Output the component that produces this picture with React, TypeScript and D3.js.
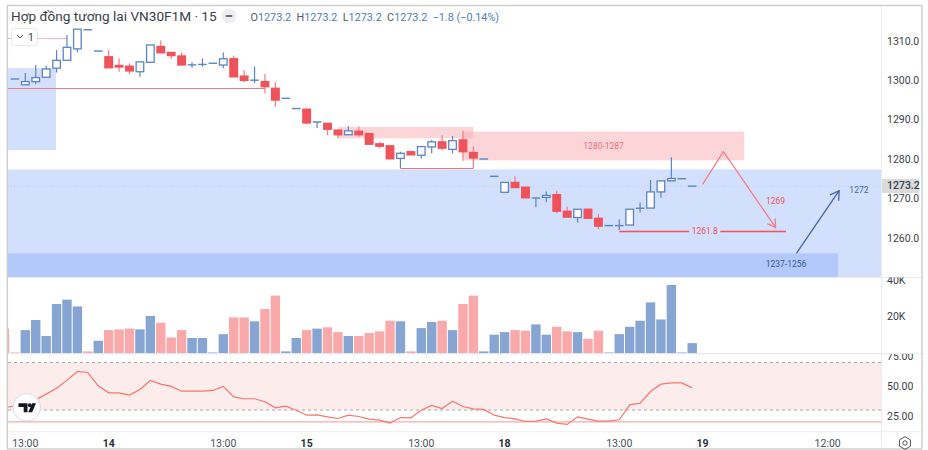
import { useRef, useEffect } from 'react';
import * as d3 from 'd3';

// OHLC, bar index -1 is the clipped bar at the left edge
const opens = [1300.4, 1298.9, 1299.7, 1300.8, 1303.1, 1305.1, 1308.0, 1312.9, 1307.5, 1306.0, 1303.8, 1303.6, 1302.2, 1304.6, 1308.6, 1307.1, 1306.2, 1303.9, 1304.0, 1304.4, 1303.9, 1305.5, 1301.1, 1300.0, 1299.7, 1298.0, 1295.5, 1292.9, 1292.7, 1289.4, 1289.1, 1287.4, 1286.2, 1287.1, 1286.5, 1283.9, 1283.4, 1280.2, 1281.9, 1281.0, 1283.1, 1284.4, 1282.5, 1284.9, 1281.7, 1280.1, 1275.7, 1271.6, 1274.1, 1272.9, 1270.1, 1270.3, 1271.0, 1266.8, 1265.2, 1267.3, 1265.0, 1263.2, 1263.1, 1263.3, 1267.5, 1267.6, 1271.7, 1274.5, 1275.1, 1273.2];
const highs = [1300.4, 1301.9, 1303.9, 1303.7, 1307.7, 1311.5, 1313.0, 1312.9, 1307.5, 1307.7, 1305.6, 1304.3, 1304.7, 1309.0, 1310.1, 1307.1, 1307.1, 1304.6, 1305.6, 1304.4, 1307.1, 1306.3, 1302.6, 1303.5, 1301.6, 1299.5, 1295.5, 1292.9, 1292.7, 1289.6, 1289.1, 1287.4, 1288.4, 1288.3, 1286.5, 1284.3, 1283.4, 1281.9, 1281.9, 1283.2, 1284.9, 1286.1, 1285.9, 1287.2, 1283.2, 1280.1, 1275.7, 1274.1, 1275.7, 1272.9, 1270.4, 1271.8, 1272.0, 1267.9, 1267.3, 1267.3, 1266.1, 1263.2, 1264.7, 1267.3, 1269.0, 1274.7, 1274.5, 1280.5, 1275.1, 1273.2];
const lows = [1300.4, 1298.9, 1299.1, 1300.8, 1302.0, 1305.1, 1307.2, 1312.9, 1307.5, 1303.2, 1302.2, 1301.6, 1300.9, 1304.6, 1307.0, 1305.4, 1303.9, 1303.2, 1303.5, 1304.4, 1303.1, 1300.9, 1299.5, 1299.3, 1296.7, 1293.3, 1295.5, 1292.9, 1288.9, 1287.9, 1286.1, 1285.3, 1286.2, 1285.7, 1283.8, 1282.8, 1280.1, 1277.7, 1281.1, 1280.1, 1281.5, 1282.2, 1281.5, 1279.6, 1277.7, 1280.1, 1275.7, 1271.6, 1272.8, 1270.2, 1267.8, 1269.1, 1266.3, 1265.3, 1263.9, 1265.0, 1262.3, 1263.2, 1262.0, 1263.3, 1266.5, 1267.6, 1270.2, 1274.5, 1275.1, 1273.2];
const closes = [1300.4, 1299.7, 1300.7, 1302.9, 1305.1, 1308.4, 1313.0, 1312.9, 1307.5, 1303.2, 1303.4, 1302.4, 1304.7, 1309.0, 1307.0, 1306.3, 1303.9, 1304.0, 1304.1, 1304.4, 1305.5, 1300.9, 1300.0, 1300.1, 1298.4, 1295.0, 1295.5, 1292.9, 1289.2, 1289.5, 1287.6, 1286.2, 1287.2, 1286.2, 1283.8, 1283.3, 1280.1, 1281.5, 1281.1, 1283.2, 1284.4, 1282.8, 1284.7, 1281.9, 1280.3, 1280.1, 1275.7, 1274.1, 1272.8, 1270.2, 1270.2, 1270.8, 1266.8, 1265.3, 1267.3, 1265.0, 1263.0, 1263.2, 1263.2, 1267.3, 1267.6, 1271.7, 1274.5, 1275.1, 1275.1, 1273.2];

// volume in thousands, starts at index -2; sign of the bar is in volumeUp
const volumes = [13.6, 0.5, 12.7, 18.2, 9.5, 26.9, 29.3, 25.6, 1.1, 6.9, 12.7, 13.1, 13.5, 13.1, 20.4, 16.7, 8.7, 12.7, 8.4, 8.4, 0.5, 10.5, 19.6, 19.6, 17.5, 24.2, 31.5, 1.1, 8.4, 12.7, 13.5, 14.2, 11.6, 9.5, 9.5, 11.1, 12, 17.8, 17.5, 1.1, 13.8, 17.1, 17.8, 12.7, 26.9, 31.5, 1.1, 10.2, 11.6, 12.7, 12.4, 15.8, 10.2, 14.5, 12, 11.6, 8, 12.4, 0.5, 10.5, 14.5, 17.8, 27.8, 18.5, 37.3, 0.5, 5.6];
const volumeUp = [0, 0, 1, 1, 1, 1, 1, 1, 0, 1, 0, 0, 0, 1, 1, 0, 0, 0, 1, 1, 1, 1, 0, 0, 1, 0, 0, 1, 1, 0, 1, 0, 0, 1, 0, 0, 0, 0, 1, 0, 1, 1, 0, 1, 0, 0, 1, 1, 1, 0, 0, 1, 1, 0, 0, 1, 0, 0, 1, 1, 1, 1, 1, 1, 1, 1, 1];

// RSI starts at index -2
const rsi = [32.2, 33.3, 35, 38.6, 43.4, 48.4, 55.2, 62.5, 61.6, 50.4, 44.5, 44.5, 42.6, 47.3, 54.9, 51.8, 49.9, 45.9, 45.9, 45.9, 46.5, 49.9, 41.1, 39.5, 39.5, 37, 31.9, 33.3, 29.9, 25.7, 26, 24.3, 22.9, 25.7, 24.6, 22.4, 21.5, 19, 23.7, 23.5, 29.9, 33.9, 31.3, 37.5, 33, 31, 30.5, 25.7, 23.7, 22.6, 20.4, 20.7, 22.6, 19, 17.9, 24.3, 22.4, 20.7, 20.7, 21.8, 34.4, 35.8, 45.6, 51.8, 52.9, 52.9, 48.7];

const priceTicks = [1310, 1300, 1290, 1280, 1270, 1260];
const volumeTicks = [40, 20];
const rsiTicks = [75, 50, 25];
const timeLabels: [number, string, boolean][] = [
  [0, '13:00', false],
  [8, '14', true],
  [19, '13:00', false],
  [27, '15', true],
  [38, '13:00', false],
  [46, '18', true],
  [57, '13:00', false],
  [65, '19', true],
  [77, '12:00', false],
];
const legendValues: [string, string][] = [
  ['O', '1273.2'],
  ['H', '1273.2'],
  ['L', '1273.2'],
  ['C', '1273.2'],
];
const lastPrice = 1273.2;

// drawn zones: [from bar, to bar, upper price, lower price]
const blueZones: [number, number, number, number][] = [
  [-3, 2.95, 1303.1, 1282.3],
  [-3, 84, 1277.4, 1250.1],
];
const darkBlueZone: [number, number, number, number] = [-3, 78, 1256.1, 1250.1];
const redZones: [number, number, number, number][] = [
  [30, 43, 1288.2, 1285.3],
  [42, 69, 1287, 1279.7],
];
const redArrow: [number, number][] = [[65, 1273.6], [67, 1281.9], [72, 1262.7]];
const blueArrow: [number, number][] = [[74, 1256.1], [78.1, 1272]];

const RED = '#f0525a';
const BLUE = '#5b84c6';
const TARGET_RED = '#f4525f';
const FONT = 'Roboto, sans-serif';

const left = 8;
const paneRight = 881;
const outerRight = 922;

export default function App() {
  const ref = useRef<SVGSVGElement>(null);

  useEffect(() => {
    const svg = d3.select(ref.current!);
    svg.selectAll('*').remove();

    const x = d3.scaleLinear().domain([0, 64]).range([25.3, 692.2]);
    const y = d3.scaleLinear().domain([1260, 1310]).range([238, 41]);
    const yVol = d3.scaleLinear().domain([0, 40]).range([353.4, 280]);
    const yRsi = d3.scaleLinear().domain([25, 75]).range([416, 356.6]);

    const defs = svg.append('defs');
    defs.append('clipPath').attr('id', 'main').append('rect')
      .attr('x', left).attr('y', 6).attr('width', paneRight - left).attr('height', 271);
    defs.append('clipPath').attr('id', 'vol').append('rect')
      .attr('x', left).attr('y', 278).attr('width', paneRight - left).attr('height', 75.5);
    defs.append('clipPath').attr('id', 'rsi').append('rect')
      .attr('x', left).attr('y', 354).attr('width', paneRight - left).attr('height', 77);
    defs.append('clipPath').attr('id', 'axisVol').append('rect')
      .attr('x', paneRight).attr('y', 277.5).attr('width', outerRight - paneRight).attr('height', 76);
    defs.append('clipPath').attr('id', 'axisRsi').append('rect')
      .attr('x', paneRight).attr('y', 354).attr('width', outerRight - paneRight).attr('height', 77);

    // price pane
    const main = svg.append('g').attr('clip-path', 'url(#main)');
    const zone = (g: d3.Selection<SVGGElement, unknown, null, undefined>, z: [number, number, number, number], fill: string) =>
      g.append('rect')
        .attr('x', x(z[0]))
        .attr('y', y(z[2]))
        .attr('width', x(z[1]) - x(z[0]))
        .attr('height', y(z[3]) - y(z[2]))
        .attr('fill', fill);
    blueZones.forEach((z) => zone(main, z, '#d2dffd'));
    zone(main, darkBlueZone, '#b4c9fb');
    redZones.forEach((z) => zone(main, z, 'rgba(249,172,178,0.5)'));

    const hline = (g: typeof main, from: number, to: number, price: number, stroke: string, w = 1) =>
      g.append('line')
        .attr('x1', x(from)).attr('x2', x(to))
        .attr('y1', Math.round(y(price)) + 0.5).attr('y2', Math.round(y(price)) + 0.5)
        .attr('stroke', stroke).attr('stroke-width', w);
    hline(main, -3, 23, 1298.1, '#f07c86');
    hline(main, -3, 4, 1310.8, '#fbb4ba');
    hline(main, 36, 43, 1277.7, '#f0727c');

    main.append('line')
      .attr('x1', left).attr('x2', paneRight)
      .attr('y1', y(lastPrice)).attr('y2', y(lastPrice))
      .attr('stroke', '#bcd0f5').attr('stroke-dasharray', '1 2');

    // candles, the array offset is index + 1
    const bars = d3.range(opens.length).map((k) => ({
      i: k - 1,
      o: opens[k],
      h: highs[k],
      l: lows[k],
      c: closes[k],
    }));
    const candle = main.selectAll('g.c').data(bars).join('g').attr('class', 'c');
    candle.append('line')
      .attr('x1', (d) => x(d.i)).attr('x2', (d) => x(d.i))
      .attr('y1', (d) => y(d.h)).attr('y2', (d) => y(d.l))
      .attr('stroke', (d) => (d.c >= d.o ? BLUE : '#f47a80'))
      .attr('stroke-width', 1.2);
    candle.append('rect')
      .attr('x', (d) => x(d.i) - 3.8)
      .attr('width', 7.6)
      .attr('y', (d) => y(Math.max(d.o, d.c)))
      .attr('height', (d) => Math.max(0.4, Math.abs(y(d.o) - y(d.c))))
      .attr('fill', (d) => (d.c >= d.o ? '#ffffff' : RED))
      .attr('stroke', (d) => (d.c >= d.o ? BLUE : RED))
      .attr('stroke-width', (d) => (Math.abs(y(d.o) - y(d.c)) < 0.5 ? 1 : 1.3));

    // annotations
    hline(main, 57, 63.7, 1261.8, TARGET_RED, 1.3);
    hline(main, 66.7, 73, 1261.8, TARGET_RED, 1.3);
    const lineGen = d3.line<[number, number]>().x((d) => x(d[0])).y((d) => y(d[1]));
    main.append('path').attr('d', lineGen(redArrow)!).attr('fill', 'none').attr('stroke', '#f27d85').attr('stroke-width', 1.3);
    main.append('path').attr('d', lineGen(blueArrow)!).attr('fill', 'none').attr('stroke', '#4463ad').attr('stroke-width', 1.3);
    const head = (pts: [number, number][], stroke: string, size: number) => {
      const [a, b] = pts.slice(-2);
      const ang = Math.atan2(y(b[1]) - y(a[1]), x(b[0]) - x(a[0]));
      const tip: [number, number] = [x(b[0]), y(b[1])];
      const wing = (d: number): [number, number] => [tip[0] - size * Math.cos(ang + d), tip[1] - size * Math.sin(ang + d)];
      main.append('path')
        .attr('d', d3.line()([wing(0.55), tip, wing(-0.55)])!)
        .attr('fill', 'none').attr('stroke', stroke).attr('stroke-width', 1.3);
    };
    head(redArrow, '#f27d85', 9);
    head(blueArrow, '#4463ad', 10);

    const note = (i: number, price: number, text: string, fill: string) =>
      main.append('text')
        .attr('x', x(i)).attr('y', y(price))
        .attr('text-anchor', 'middle').attr('dominant-baseline', 'central')
        .attr('font-family', FONT).attr('font-size', 8.5).attr('fill', fill).text(text);
    note(55.5, 1283.4, '1280-1287', '#f0727c');
    note(65.2, 1261.8, '1261.8', TARGET_RED);
    note(72, 1269.5, '1269', TARGET_RED);
    note(80, 1272.2, '1272', '#4463ad');
    note(73, 1253.4, '1237-1256', '#3355aa');

    // volume pane
    const vol = svg.append('g').attr('clip-path', 'url(#vol)');
    vol.selectAll('rect').data(volumes).join('rect')
      .attr('x', (_, k) => x(k - 2) - 4.7)
      .attr('width', 9.4)
      .attr('y', (d) => yVol(d))
      .attr('height', (d) => yVol(0) - yVol(d))
      .attr('fill', (_, k) => (volumeUp[k] ? '#87a5d2' : '#f9a9a9'));

    // RSI pane
    const rsiG = svg.append('g').attr('clip-path', 'url(#rsi)');
    rsiG.append('rect')
      .attr('x', left).attr('width', paneRight - left)
      .attr('y', yRsi(70)).attr('height', yRsi(30) - yRsi(70))
      .attr('fill', '#fdecec');
    [70, 30].forEach((v) => {
      rsiG.append('line')
        .attr('x1', left).attr('x2', paneRight)
        .attr('y1', yRsi(v)).attr('y2', yRsi(v))
        .attr('stroke', '#a9a9a9').attr('stroke-dasharray', '3 3');
    });
    rsiG.append('line')
      .attr('x1', left).attr('x2', paneRight)
      .attr('y1', yRsi(20)).attr('y2', yRsi(20))
      .attr('stroke', '#fbaaa6').attr('stroke-width', 1.3);
    const rsiLine = d3.line<number>().x((_, k) => x(k - 2)).y((d) => yRsi(d));
    rsiG.append('path').attr('d', rsiLine(rsi)!).attr('fill', 'none').attr('stroke', '#f8756c').attr('stroke-width', 1.2);

    // frame
    const sep = (x1: number, y1: number, x2: number, y2: number, stroke: string, w = 1) =>
      svg.append('line').attr('x1', x1).attr('y1', y1).attr('x2', x2).attr('y2', y2).attr('stroke', stroke).attr('stroke-width', w);
    sep(left, 277.5, outerRight, 277.5, '#e8ebf2');
    sep(left, 353.7, outerRight, 353.7, '#e3e6ee');
    sep(left, 431.7, outerRight, 431.7, '#eeeeee');
    sep(paneRight + 0.5, 6, paneRight + 0.5, 449, '#ebebeb');
    sep(7, 5.5, outerRight, 5.5, '#cfcfcf', 1.5);
    sep(7.3, 5, 7.3, 449, '#cfcfcf', 1.5);
    sep(outerRight, 5, outerRight, 449, '#cfcfcf', 1.5);
    sep(7, 449, outerRight, 449, '#cfcfcf', 1.5);

    // right axes
    const axisLabel = (parent: d3.Selection<any, unknown, null, undefined>, py: number, text: string, weight = 400) =>
      parent.append('text')
        .attr('x', 887).attr('y', py)
        .attr('dominant-baseline', 'central')
        .attr('font-family', FONT).attr('font-size', 10.5).attr('font-weight', weight)
        .attr('fill', '#3a3f4a').text(text);
    priceTicks.forEach((p) => axisLabel(svg as any, y(p), p.toFixed(1)));
    svg.append('rect')
      .attr('x', paneRight + 1).attr('y', y(lastPrice) - 7)
      .attr('width', 37).attr('height', 14).attr('fill', '#dadbdd');
    axisLabel(svg as any, y(lastPrice), lastPrice.toFixed(1), 500);
    const axisVol = svg.append('g').attr('clip-path', 'url(#axisVol)');
    volumeTicks.forEach((v) => axisLabel(axisVol as any, yVol(v), `${v}K`));
    const axisRsi = svg.append('g').attr('clip-path', 'url(#axisRsi)');
    rsiTicks.forEach((v) => axisLabel(axisRsi as any, yRsi(v), v.toFixed(2)));

    // time axis
    timeLabels.forEach(([i, text, bold]) => {
      svg.append('text')
        .attr('x', x(i)).attr('y', 443)
        .attr('text-anchor', 'middle').attr('dominant-baseline', 'central')
        .attr('font-family', FONT).attr('font-size', 10.5)
        .attr('font-weight', bold ? 700 : 400)
        .attr('fill', bold ? '#2a2e39' : '#4a4f5c')
        .text(text);
    });

    // settings hexagon
    const hex = d3.range(6).map((k) => {
      const a = (Math.PI / 3) * k + Math.PI / 6;
      return [905 + 6.3 * Math.cos(a), 443 + 6.3 * Math.sin(a)] as [number, number];
    });
    svg.append('path').attr('d', d3.line().curve(d3.curveLinearClosed)(hex)!).attr('fill', 'none').attr('stroke', '#555').attr('stroke-width', 1);
    svg.append('circle').attr('cx', 905).attr('cy', 443).attr('r', 2.2).attr('fill', 'none').attr('stroke', '#555');

    // TradingView badge
    svg.append('circle').attr('cx', 26.8).attr('cy', 407.3).attr('r', 13.8).attr('fill', '#fff').attr('stroke', '#d9dce4');
    const logo = svg.append('g').attr('fill', '#131722');
    logo.append('path').attr('d', 'M18.5 403.3h9v9h-3.8v-5.2h-5.2z');
    logo.append('circle').attr('cx', 29.8).attr('cy', 405.2).attr('r', 1.9);
    logo.append('path').attr('d', 'M32.2 403.3h3.8l-3.8 9h-4z');

    // header
    svg.append('text')
      .attr('x', 11).attr('y', 21)
      .attr('font-family', FONT).attr('font-size', 13.6).attr('fill', '#3a3e48')
      .text('Hợp đồng tương lai VN30F1M · 15');
    svg.append('circle').attr('cx', 229).attr('cy', 16).attr('r', 7.5).attr('fill', '#eceef2');
    svg.append('rect').attr('x', 225.5).attr('y', 15).attr('width', 7).attr('height', 2).attr('rx', 1).attr('fill', '#6a6d78');
    const legend = svg.append('text')
      .attr('x', 250.5).attr('y', 20.5)
      .attr('font-family', FONT).attr('font-size', 10.8);
    legendValues.forEach(([k, v]) => {
      legend.append('tspan').attr('fill', '#555a66').text(k);
      legend.append('tspan').attr('fill', '#4a7cc4').text(`${v}\u00a0\u00a0`);
    });
    legend.append('tspan').attr('fill', '#4a7cc4').text('−1.8 (−0.14%)');

    // collapse chip
    svg.append('rect')
      .attr('x', 11.5).attr('y', 28.5).attr('width', 26).attr('height', 17).attr('rx', 3)
      .attr('fill', '#fff').attr('stroke', '#e6e8ee');
    svg.append('path').attr('d', 'M17 35l3 3 3-3').attr('fill', 'none').attr('stroke', '#4a4f5c');
    svg.append('text').attr('x', 28).attr('y', 40.5).attr('font-family', FONT).attr('font-size', 10.5).attr('fill', '#3a3e48').text('1');
  }, []);

  return (
    <svg
      ref={ref}
      width={928}
      height={450}
      style={{ position: 'fixed', left: 0, top: 0, background: '#fff', display: 'block' }}
    />
  );
}
